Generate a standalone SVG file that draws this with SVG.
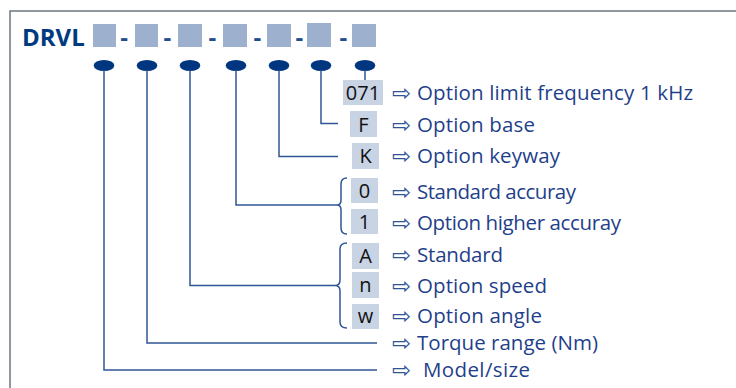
<svg xmlns="http://www.w3.org/2000/svg" width="736" height="388" viewBox="0 0 736 388">
<style>
.frame{fill:none;stroke:#6b7680;stroke-width:1.5}
.sq{fill:#9db1cf}
.dash{font-family:"Open Sans",sans-serif;font-weight:bold;font-size:24px;fill:#1f4e8c;text-anchor:middle}
.dot{fill:#003580}
.ln{fill:none;stroke:#2f5597;stroke-width:1.5}
.box{fill:#c8d3e4}
.code{font-family:"Open Sans",sans-serif;font-size:20px;fill:#111;text-anchor:middle}
.arr{font-family:"DejaVu Sans",sans-serif;font-size:23px;fill:#2f5597}
.lbl{font-family:"Open Sans",sans-serif;font-size:20.5px;fill:#1f3f8a}
</style>
<rect width="736" height="388" fill="#fff"/>
<path class="frame" d="M736 11 H10 V388"/>
<g id="header">
<text x="22" y="46" font-family="'Open Sans',sans-serif" font-weight="bold" font-size="24" fill="#003a80">DRVL</text>
<rect class="sq" x="93" y="24" width="23" height="23"/>
<rect class="sq" x="135" y="24" width="23" height="23"/>
<rect class="sq" x="178" y="24" width="24" height="23"/>
<rect class="sq" x="223" y="24" width="24" height="23"/>
<rect class="sq" x="267" y="24" width="24" height="23"/>
<rect class="sq" x="307" y="23" width="24" height="24"/>
<rect class="sq" x="352" y="24" width="24" height="23"/>
<text class="dash" x="124" y="46">-</text>
<text class="dash" x="167.3" y="46">-</text>
<text class="dash" x="212.3" y="46">-</text>
<text class="dash" x="257.3" y="46">-</text>
<text class="dash" x="299.3" y="46">-</text>
<text class="dash" x="343.3" y="46">-</text>
</g>
<g id="dots">
<ellipse class="dot" cx="104" cy="65.5" rx="10.3" ry="5.5"/>
<ellipse class="dot" cx="147" cy="65.5" rx="10.3" ry="5.5"/>
<ellipse class="dot" cx="190" cy="65.5" rx="10.3" ry="5.5"/>
<ellipse class="dot" cx="236" cy="65.5" rx="10.3" ry="5.5"/>
<ellipse class="dot" cx="279" cy="65.5" rx="10.3" ry="5.5"/>
<ellipse class="dot" cx="321" cy="65.5" rx="10.3" ry="5.5"/>
<ellipse class="dot" cx="365" cy="65.5" rx="10.3" ry="5.5"/>
</g>
<g id="connectors">
<path class="ln" d="M365 70 V80"/>
<path class="ln" d="M321 70 V123.5 H338"/>
<path class="ln" d="M279 70 V156.5 H338"/>
<path class="ln" d="M236 70 V205 H337"/>
<path class="ln" d="M190 70 V285.5 H335"/>
<path class="ln" d="M147 70 V343 H377"/>
<path class="ln" d="M104 70 V370 H377"/>
<path class="ln" d="M347 178 Q341 178 341 184 V200 Q341 205 337 205 Q341 205 341 210 V228 Q341 234 347 234"/>
<path class="ln" d="M347 243 Q340 243 340 249 V280 Q340 285.5 335 285.5 Q340 285.5 340 291 V322 Q340 328 347 328"/>
</g>
<g id="opt-071"><rect class="box" x="343" y="80" width="40" height="25"/><text class="code" x="363" y="100">071</text><text class="arr" x="392" y="101">⇨</text><text class="lbl" x="417" y="100" textLength="276" lengthAdjust="spacing">Option limit frequency 1 kHz</text></g>
<g id="opt-F"><rect class="box" x="350" y="111" width="27" height="26"/><text class="code" x="363.5" y="131.5">F</text><text class="arr" x="392" y="133">⇨</text><text class="lbl" x="417" y="132" textLength="118" lengthAdjust="spacing">Option base</text></g>
<g id="opt-K"><rect class="box" x="352" y="143" width="27" height="26"/><text class="code" x="365.5" y="163">K</text><text class="arr" x="392" y="164">⇨</text><text class="lbl" x="417" y="163" textLength="143" lengthAdjust="spacing">Option keyway</text></g>
<g id="opt-0"><rect class="box" x="351" y="178" width="27" height="25"/><text class="code" x="364.5" y="198">0</text><text class="arr" x="392" y="200">⇨</text><text class="lbl" x="417" y="199" textLength="159" lengthAdjust="spacing">Standard accuray</text></g>
<g id="opt-1"><rect class="box" x="351" y="209" width="27" height="25"/><text class="code" x="364.5" y="229">1</text><text class="arr" x="392" y="231">⇨</text><text class="lbl" x="417" y="230" textLength="204" lengthAdjust="spacing">Option higher accuray</text></g>
<g id="opt-A"><rect class="box" x="352" y="243" width="27" height="26"/><text class="code" x="365.5" y="263">A</text><text class="arr" x="392" y="263">⇨</text><text class="lbl" x="417" y="262" textLength="86" lengthAdjust="spacing">Standard</text></g>
<g id="opt-n"><rect class="box" x="352" y="272" width="27" height="26"/><text class="code" x="365.5" y="292">n</text><text class="arr" x="392" y="293.5">⇨</text><text class="lbl" x="417" y="292.5" textLength="130" lengthAdjust="spacing">Option speed</text></g>
<g id="opt-w"><rect class="box" x="352" y="304" width="27" height="25"/><text class="code" x="365.5" y="323">w</text><text class="arr" x="392" y="323.5">⇨</text><text class="lbl" x="417" y="322.5" textLength="125" lengthAdjust="spacing">Option angle</text></g>
<g id="torque"><text class="arr" x="392" y="351">⇨</text><text class="lbl" x="417" y="350" textLength="181" lengthAdjust="spacing">Torque range (Nm)</text></g>
<g id="model"><text class="arr" x="392" y="378">⇨</text><text class="lbl" x="423" y="377" textLength="107" lengthAdjust="spacing">Model/size</text></g>
</svg>
